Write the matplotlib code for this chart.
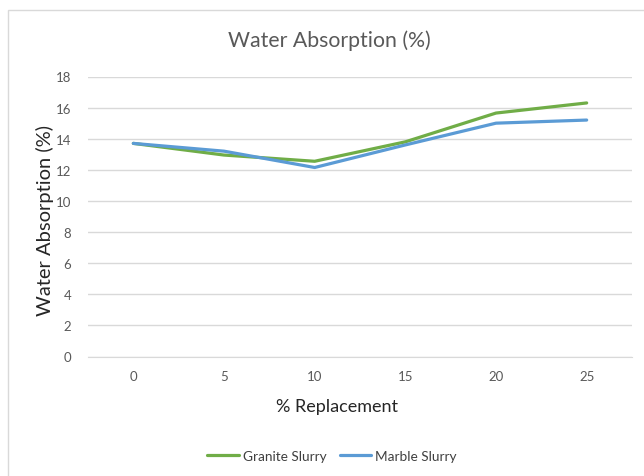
import matplotlib
matplotlib.use("Agg")
import matplotlib.pyplot as plt
from matplotlib.patches import Rectangle

plt.rcParams['font.family'] = ['Lato', 'DejaVu Sans']

replacement = ["0", "5", "10", "15", "20", "25"]
granite_slurry = [13.7, 12.95, 12.55, 13.8, 15.65, 16.3]
marble_slurry = [13.7, 13.2, 12.15, 13.6, 15.0, 15.2]
y_ticks = [0, 2, 4, 6, 8, 10, 12, 14, 16, 18]

W, H = 644, 477
fig = plt.figure(figsize=(W / 100, H / 100), dpi=100)
fig.patch.set_facecolor("white")

# chart-area frame
fig.add_artist(Rectangle((8 / W, -0.05), 1.0, 1 - 11 / H + 0.05,
                         transform=fig.transFigure, fill=False,
                         edgecolor="#d9d9d9", linewidth=1.0))

left, right, top, bottom = 88, 632, 77.5, 357.5
ax = fig.add_axes([left / W, 1 - bottom / H, (right - left) / W, (bottom - top) / H])

x = list(range(len(replacement)))
ax.plot(x, granite_slurry, color="#70AD47", linewidth=2.3, label="Granite Slurry",
        solid_capstyle="round", solid_joinstyle="round")
ax.plot(x, marble_slurry, color="#5B9BD5", linewidth=2.3, label="Marble Slurry",
        solid_capstyle="round", solid_joinstyle="round")

ax.set_xlim(-0.5, len(replacement) - 0.5)
ax.set_ylim(0, 18)
ax.set_xticks(x)
ax.set_xticklabels(replacement)
ax.set_yticks(y_ticks)
ax.grid(axis="y", color="#d9d9d9", linewidth=1.0)
ax.set_axisbelow(True)
for s in ["top", "right", "left"]:
    ax.spines[s].set_visible(False)
ax.spines["bottom"].set_color("#d9d9d9")
ax.tick_params(axis="both", length=0, labelsize=9.5, labelcolor="#595959")
ax.tick_params(axis="y", pad=12)
ax.tick_params(axis="x", pad=10)

# axis titles
fig.text(337 / W, 1 - 407 / H, "% Replacement", ha="center", va="center",
         fontsize=13, color="#262626")
fig.text(45 / W, 1 - 220 / H, "Water Absorption (%)", ha="center", va="center",
         rotation=90, fontsize=14.5, color="#262626")

fig.text(329 / W, 1 - 41 / H, "Water Absorption (%)", ha="center", va="center",
         fontsize=15.3, color="#595959")

leg = fig.legend(loc="center", bbox_to_anchor=(332 / W, 1 - 457 / H), ncol=2,
                 frameon=False, fontsize=9.8, handlelength=2.3, columnspacing=1.0,
                 handletextpad=0.3)
for t in leg.get_texts():
    t.set_color("#404040")

fig.savefig("out.png", dpi=100, facecolor="white")
